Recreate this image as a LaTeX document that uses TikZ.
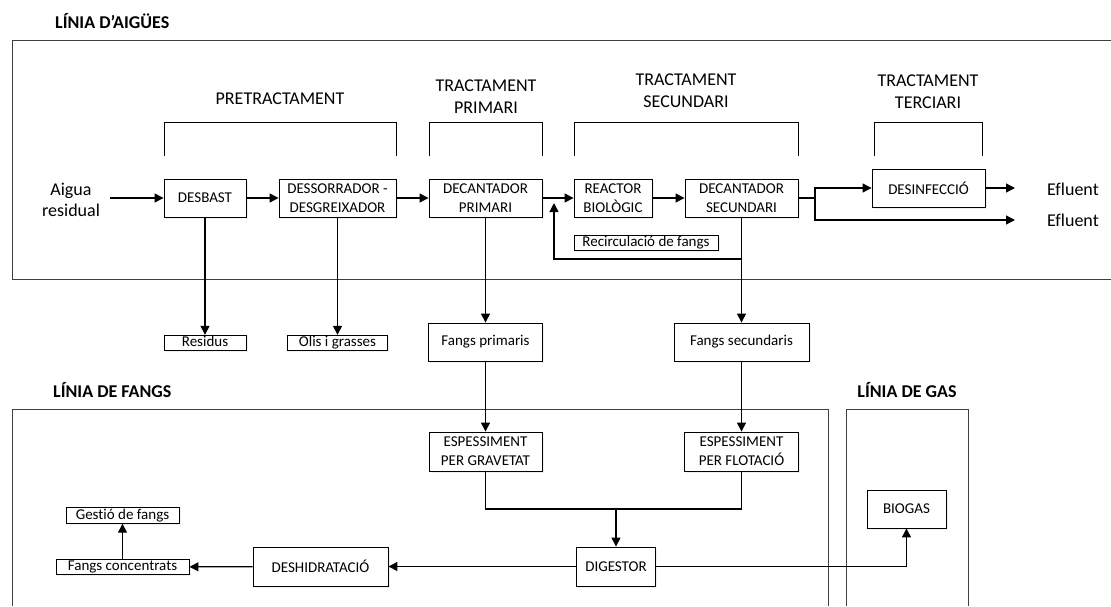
\documentclass[tikz,border=0pt]{standalone}
\usepackage{fontspec}
\setmainfont{Carlito}[Ligatures={TeX,NoCommon}]
\usetikzlibrary{arrows.meta,shadows}

\newcommand{\boxfont}{\fontsize{15}{19}\selectfont}
\newcommand{\headfont}{\fontsize{18}{22}\selectfont}
\newcommand{\titlefont}{\fontsize{18}{22}\selectfont\bfseries}

\tikzset{
  stage/.style={draw, line width=.9pt, fill=white, font=\boxfont, align=center,
    inner sep=1pt, minimum height=38pt,
    drop shadow={shadow xshift=1.5pt, shadow yshift=-1.5pt, fill=blue!30!gray!18}},
  tagbox/.style={stage, minimum height=15.5pt, inner ysep=0pt, text height=10pt, text depth=3pt},
  flow/.style={line width=1.3pt, -{Triangle[length=9pt,width=9pt]}},
  pipe/.style={line width=1.3pt},
  frame/.style={line width=1pt, draw=black!75},
  bracket/.style={line width=1pt},
  head/.style={font=\headfont, align=center},
  title/.style={font=\titlefont, anchor=base west, inner sep=0pt},
}

\begin{document}
\begin{tikzpicture}[x=1pt,y=-1pt]
  \useasboundingbox (0,0) rectangle (1111,606);
  \fill[white] (0,0) rectangle (1111,606);

  \draw[frame] (1111,40) -- (12,40) -- (12,279) -- (1111,279);
  \draw[frame] (12,606) -- (12,409) -- (828,409) -- (828,606);
  \draw[frame] (846,606) -- (846,409) -- (968,409) -- (968,606);

  \node[title] (tAig) at (55,28) {LÍNIA D’AIGÜES};
  \node[title] (tFan) at (53,397) {LÍNIA DE FANGS};
  \node[title, anchor=base] (tGas) at (907,397) {LÍNIA DE GAS};

  \draw[bracket] (164,156) -- (164,122) -- (396,122) -- (396,156);
  \draw[bracket] (429,156) -- (429,122) -- (542,122) -- (542,156);
  \draw[bracket] (574,156) -- (574,122) -- (798,122) -- (798,156);
  \draw[bracket] (874,156) -- (874,122) -- (982,122) -- (982,156);
  \node[head] (hPre) at (280,99) {PRETRACTAMENT};
  \node[head] (hPri) at (486,97) {TRACTAMENT\\PRIMARI};
  \node[head] (hSec) at (686,91) {TRACTAMENT\\SECUNDARI};
  \node[head] (hTer) at (928,92) {TRACTAMENT\\TERCIARI};

  \node[font=\headfont, align=center, anchor=base, inner sep=0pt, text width=80pt,
        execute at begin node=\setlength{\baselineskip}{21.5pt}] (aigua) at (71,195) {Aigua\\residual};
  \node[font=\headfont, anchor=base west, inner sep=0pt] (ef1) at (1047,195) {Efluent};
  \node[font=\headfont, anchor=base west, inner sep=0pt] (ef2) at (1047,226) {Efluent};

  \node[stage, minimum width=82pt] (desbast) at (205,198) {DESBAST};
  \node[stage, minimum width=117pt] (dessor) at (337.5,198) {DESSORRADOR -\\DESGREIXADOR};
  \node[stage, minimum width=113pt] (decprim) at (485.5,198) {DECANTADOR\\PRIMARI};
  \node[stage, minimum width=78pt] (reactor) at (613,198) {REACTOR\\BIOLÒGIC};
  \node[stage, minimum width=113pt] (decsec) at (741.5,198) {DECANTADOR\\SECUNDARI};
  \node[stage, minimum width=113pt] (desinf) at (928.5,188) {DESINFECCIÓ};
  \node[tagbox, minimum width=144pt] (recirc) at (646,243) {Recirculació de fangs};
  \node[tagbox, minimum width=82pt] (residus) at (205,343) {Residus};
  \node[tagbox, minimum width=100pt] (olis) at (337.5,343) {Olis i grasses};
  \node[stage, minimum width=114pt] (fprim) at (485.5,342) {Fangs primaris};
  \node[stage, minimum width=135pt] (fsec) at (741.5,342) {Fangs secundaris};
  \node[stage, minimum width=113pt, minimum height=39pt] (grav) at (485.5,451.5) {ESPESSIMENT\\PER GRAVETAT};
  \node[stage, minimum width=114pt, minimum height=39pt] (flot) at (741.5,451.5) {ESPESSIMENT\\PER FLOTACIÓ};
  \node[stage, minimum width=79pt, minimum height=39pt] (digest) at (616,566.5) {DIGESTOR};
  \node[stage, minimum width=135pt, minimum height=39pt] (deshid) at (320.5,566.5) {DESHIDRATACIÓ};
  \node[tagbox, minimum width=133pt] (fconc) at (122.5,567) {Fangs concentrats};
  \node[tagbox, minimum width=113pt] (gestio) at (122.5,515.5) {Gestió de fangs};
  \node[stage, minimum width=79pt] (biogas) at (906.5,509) {BIOGAS};

  \coordinate (inlet) at (110,198);
  \coordinate (br) at (815,198);
  \coordinate (e1) at (1015,188);
  \coordinate (e2) at (1015,220);
  \coordinate (rc) at (741.5,259);
  \coordinate (jn) at (554,198);
  \coordinate (mg) at (616,509);

  \path[flow]
  (inlet) edge (desbast)
  (desbast) edge (dessor)
  (dessor) edge (decprim)
  (decprim) edge (reactor)
  (reactor) edge (decsec)
  (desinf) edge (e1)
  (desbast) edge (residus)
  (dessor) edge (olis)
  (decprim) edge (fprim)
  (decsec) edge (fsec)
  (fprim) edge (grav)
  (fsec) edge (flot)
  (mg) edge (digest)
  (digest) edge (deshid)
  (deshid) edge (fconc)
  (fconc) edge (gestio);

  \draw[pipe] (decsec.east) -- (br);
  \draw[flow] (br) |- (desinf);
  \draw[flow] (br) |- (e2);
  \draw[flow, shorten >=5pt] (rc) -| (jn);
  \draw[pipe] (grav.south) |- (mg) -| (flot.south);
  \draw[flow] (digest.east) -| (biogas.south);
\end{tikzpicture}
\end{document}
